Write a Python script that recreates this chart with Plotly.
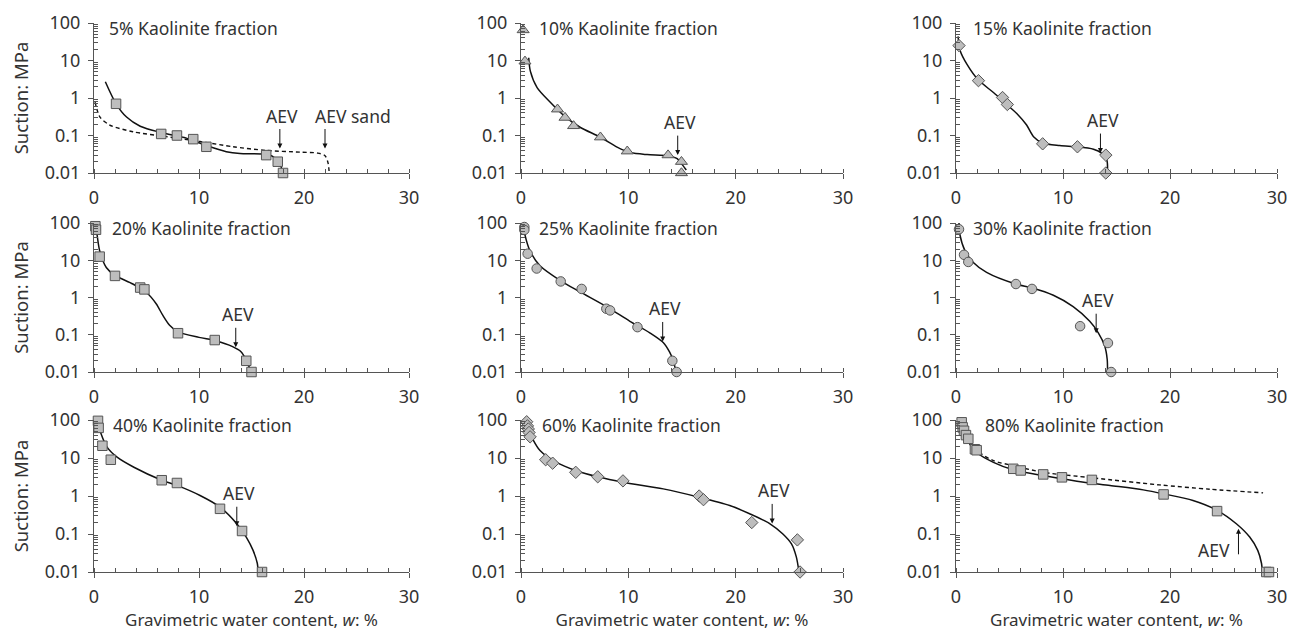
import math
import plotly.graph_objects as go

# ---------------- data ----------------
titles = ["5% Kaolinite fraction", "10% Kaolinite fraction", "15% Kaolinite fraction",
          "20% Kaolinite fraction", "25% Kaolinite fraction", "30% Kaolinite fraction",
          "40% Kaolinite fraction", "60% Kaolinite fraction", "80% Kaolinite fraction"]
symbols = ["square", "triangle-up", "diamond", "square", "circle", "circle",
           "square", "diamond", "square"]

# measured points
w05 = [2.1, 6.4, 7.9, 9.45, 10.7, 16.4, 17.5, 18.0]
s05 = [0.70, 0.11, 0.10, 0.08, 0.05, 0.03, 0.02, 0.01]
w10 = [0.2, 0.37, 3.4, 4.1, 4.9, 7.4, 9.9, 13.7, 14.95, 14.95]
s10 = [65, 9.5, 0.5, 0.30, 0.18, 0.09, 0.038, 0.03, 0.02, 0.01]
w15 = [0.28, 2.1, 4.35, 4.8, 8.1, 11.35, 14.0, 14.0]
s15 = [25, 2.9, 1.03, 0.67, 0.06, 0.05, 0.03, 0.01]
w20 = [0.13, 0.19, 0.54, 2.0, 4.4, 4.8, 8.0, 11.5, 14.5, 15.0]
s20 = [82, 66, 12.5, 3.8, 1.85, 1.65, 0.11, 0.072, 0.02, 0.01]
w25 = [0.31, 0.31, 0.62, 1.46, 3.7, 5.65, 7.95, 8.3, 10.85, 14.1, 14.5]
s25 = [78, 65, 15, 6.0, 2.7, 1.7, 0.5, 0.45, 0.16, 0.02, 0.01]
w30 = [0.28, 0.75, 1.15, 5.6, 7.1, 11.6, 14.2, 14.5]
s30 = [68, 14, 9.0, 2.3, 1.7, 0.17, 0.06, 0.01]
w40 = [0.38, 0.44, 0.8, 1.6, 6.45, 7.9, 12.0, 14.1, 16.0]
s40 = [95, 62, 21, 9.0, 2.6, 2.2, 0.46, 0.12, 0.01]
w60 = [0.53, 0.6, 0.68, 0.75, 0.85, 2.3, 2.95, 5.1, 7.15, 9.5, 16.6, 17.0, 21.5, 25.75, 26.0]
s60 = [90, 70, 58, 47, 36, 9.0, 7.3, 4.2, 3.2, 2.5, 1.0, 0.8, 0.2, 0.07, 0.01]
w80 = [0.53, 0.62, 0.75, 0.93, 1.15, 1.77, 1.93, 5.35, 6.05, 8.15, 9.9, 12.7, 19.4, 24.4, 29.0, 29.25]
s80 = [87, 64, 52, 40, 32, 17, 16, 5.2, 4.7, 3.7, 3.1, 2.65, 1.1, 0.40, 0.01, 0.01]

# fitted curves (solid)
fw05 = [1.08, 2.1, 3.1, 4.4, 6.4, 8.8, 10.7, 12.6, 13.9, 16.1, 17.05, 17.7, 17.95]
fs05 = [2.7, 0.7, 0.31, 0.177, 0.12, 0.085, 0.054, 0.037, 0.033, 0.032, 0.0275, 0.018, 0.01]
fw10 = [0.72, 0.87, 1.5, 2.75, 4.0, 5.5, 7.4, 8.95, 10.2, 11.75, 13.7, 14.55, 15.0, 15.4]
fs10 = [11.8, 5.2, 1.9, 0.76, 0.34, 0.166, 0.09, 0.049, 0.035, 0.031, 0.029, 0.024, 0.017, 0.012]
fw15 = [0.19, 0.4, 1.03, 2.1, 3.5, 4.45, 5.7, 6.6, 7.25, 8.1, 9.7, 11.35, 12.85, 13.6, 14.1, 14.15]
fs15 = [44, 18, 7.9, 3.0, 1.4, 0.8, 0.38, 0.19, 0.093, 0.063, 0.054, 0.05, 0.043, 0.034, 0.022, 0.01]
fw20 = [0.13, 0.29, 0.54, 1.17, 2.0, 3.7, 4.97, 5.92, 6.56, 7.2, 8.0, 10.0, 11.6, 13.2, 14.0, 14.5, 14.8, 14.86]
fs20 = [100, 49, 18, 6.4, 3.9, 2.3, 1.38, 0.68, 0.33, 0.18, 0.12, 0.085, 0.069, 0.048, 0.035, 0.021, 0.013, 0.01]
fw25 = [0.2, 0.37, 0.84, 1.77, 3.7, 5.5, 7.95, 10.15, 12.0, 13.25, 13.85, 14.25, 14.4]
fs25 = [100, 48, 17.8, 7.1, 2.8, 1.41, 0.57, 0.23, 0.113, 0.062, 0.034, 0.018, 0.01]
fw30 = [0.28, 0.37, 0.84, 1.62, 2.86, 5.57, 7.13, 9.1, 10.95, 12.5, 13.3, 13.9, 14.13, 14.16]
fs30 = [100, 48, 18, 8.7, 4.7, 2.3, 1.8, 1.15, 0.57, 0.23, 0.113, 0.05, 0.022, 0.01]
fw40 = [0.32, 0.63, 1.26, 2.2, 3.8, 6.45, 7.9, 10.1, 12.0, 13.6, 14.5, 15.15, 15.55, 15.63]
fs40 = [100, 47, 19, 10.5, 5.7, 2.6, 1.9, 1.03, 0.51, 0.186, 0.083, 0.037, 0.017, 0.01]
fw60 = [0.16, 0.53, 1.0, 1.77, 3.3, 5.1, 7.15, 9.5, 13.25, 16.6, 19.45, 21.3, 23.2, 24.4, 25.2, 25.65, 25.9]
fs60 = [100, 64, 35, 15.7, 7.7, 4.7, 3.2, 2.3, 1.54, 0.93, 0.56, 0.34, 0.186, 0.10, 0.055, 0.025, 0.01]
fw80 = [0.53, 0.84, 1.3, 1.93, 3.5, 5.35, 8.15, 11.3, 14.4, 17.5, 19.4, 22.15, 24.4, 26.2, 27.45, 28.2, 28.55, 28.63]
fs80 = [95, 43, 23, 14, 7.7, 4.9, 3.45, 2.45, 1.89, 1.45, 1.14, 0.76, 0.42, 0.186, 0.083, 0.037, 0.017, 0.01]

# dashed curves
dw05 = [0.1, 0.57, 1.5, 3.7, 6.9, 10.1, 13.25, 16.4, 19.6, 21.3, 22.0, 22.3, 22.4]
ds05 = [0.78, 0.31, 0.19, 0.126, 0.093, 0.069, 0.05, 0.04, 0.036, 0.034, 0.029, 0.018, 0.01]
dw80 = [0.68, 1.3, 1.93, 3.5, 5.35, 8.15, 12.8, 19.0, 23.7, 28.7]
ds80 = [87, 26, 15.7, 8.5, 6.3, 4.2, 3.0, 1.96, 1.51, 1.21]

# AEV arrows: water content, suction at arrow tip
aev_w = [17.7, 14.6, 13.5, 13.5, 13.2, 13.1, 13.6, 23.4, 26.4]
aev_s = [0.045, 0.030, 0.034, 0.046, 0.066, 0.11, 0.16, 0.19, 0.137]
aev_sand_w = 22.0
aev_sand_s = 0.045

# axis ticks
x_ticks = [0, 10, 20, 30]
y_ticks = [0.01, 0.1, 1, 10, 100]
y_ticktext = ["0.01", "0.1", "1", "10", "100"]

pts_w = [w05, w10, w15, w20, w25, w30, w40, w60, w80]
pts_s = [s05, s10, s15, s20, s25, s30, s40, s60, s80]
fit_w = [fw05, fw10, fw15, fw20, fw25, fw30, fw40, fw60, fw80]
fit_s = [fs05, fs10, fs15, fs20, fs25, fs30, fs40, fs60, fs80]

y_minor = [m * 10 ** e for e in range(-2, 2) for m in range(2, 10)]

# ---------------- layout geometry ----------------
W, H = 1295, 633
OFF = 8  # page body margin of the browser
col_px = [(94 - OFF, 409 - OFF), (521 - OFF, 843 - OFF), (956 - OFF, 1277 - OFF)]
row_px = [(23 - OFF, 173 - OFF), (223 - OFF, 372 - OFF), (420 - OFF, 572 - OFF)]
title_dx = [0.041, 0.05, 0.047, 0.051, 0.05, 0.047, 0.054, 0.059, 0.084]

FONT = "Noto Sans"
TXT = "#333333"
AX = "#555555"
TICKF = dict(family=FONT, size=18, color=TXT)
LABF = dict(family=FONT, size=17.5, color=TXT)

fig = go.Figure()

for i in range(9):
    r, c = divmod(i, 3)
    n = i + 1
    xa = "x" if n == 1 else f"x{n}"
    ya = "y" if n == 1 else f"y{n}"

    fig.add_trace(go.Scatter(x=fit_w[i], y=fit_s[i], mode="lines",
                             line=dict(color="#111111", width=1.5, shape="spline", smoothing=0.8),
                             xaxis=xa, yaxis=ya, showlegend=False, hoverinfo="skip"))
    if i == 0:
        fig.add_trace(go.Scatter(x=dw05, y=ds05, mode="lines",
                                 line=dict(color="#111111", width=1.4, dash="4px,3px", shape="spline", smoothing=0.8),
                                 xaxis=xa, yaxis=ya, showlegend=False))
    if i == 8:
        fig.add_trace(go.Scatter(x=dw80, y=ds80, mode="lines",
                                 line=dict(color="#111111", width=1.4, dash="4px,3px", shape="spline", smoothing=0.8),
                                 xaxis=xa, yaxis=ya, showlegend=False))
    fig.add_trace(go.Scatter(x=pts_w[i], y=pts_s[i], mode="markers",
                             marker=dict(symbol=symbols[i], size=9.5 if symbols[i] != "triangle-up" else 10.5,
                                         color="#bdbdbd", line=dict(color="#555555", width=1)),
                             cliponaxis=False, xaxis=xa, yaxis=ya, showlegend=False))

    x0, x1 = col_px[c]
    y0, y1 = row_px[r]
    xkey = "xaxis" if n == 1 else f"xaxis{n}"
    ykey = "yaxis" if n == 1 else f"yaxis{n}"
    xaxis = dict(domain=[x0 / W, x1 / W], anchor=ya, range=[0, 30], automargin=False,
                 tickvals=x_ticks, ticks="outside", ticklen=5, tickcolor=AX, ticklabelstandoff=3,
                 showline=True, linecolor=AX, linewidth=1, showgrid=False, zeroline=False,
                 minor=dict(ticks="inside", dtick=2, ticklen=4, tickcolor=AX, showgrid=False),
                 tickfont=TICKF)
    if r == 2:
        xaxis["title"] = dict(text="Gravimetric water content, <i>w</i>: %",
                              font=dict(family=FONT, size=17, color=TXT), standoff=4)
    yaxis = dict(domain=[1 - y1 / H, 1 - y0 / H], anchor=xa, type="log", range=[-2, 2],
                 automargin=False, tickvals=y_ticks, ticktext=y_ticktext,
                 ticks="outside", ticklen=5, tickcolor=AX, ticklabelstandoff=4,
                 showline=True, linecolor=AX, linewidth=1, showgrid=False, zeroline=False,
                 minor=dict(ticks="inside", tickvals=y_minor, ticklen=4, tickcolor=AX, showgrid=False),
                 tickfont=TICKF)
    if c == 0:
        yaxis["title"] = dict(text="Suction: MPa", font=dict(family=FONT, size=18.5, color=TXT), standoff=14)
    fig.layout[xkey] = xaxis
    fig.layout[ykey] = yaxis

    # panel title
    fig.add_annotation(text=titles[i], xref=f"{xa} domain", yref=f"{ya} domain",
                       x=title_dx[i], y=0.967, xanchor="left", yanchor="middle", showarrow=False,
                       font=LABF)

    # AEV arrows
    up = (i == 8)
    fig.add_annotation(text="", x=aev_w[i], y=math.log10(aev_s[i]), xref=xa, yref=ya,
                       showarrow=True, arrowhead=2, arrowsize=1, arrowwidth=1, arrowcolor="#111111",
                       ax=0, ay=(27 if up else -21))
    if up:
        fig.add_annotation(text="AEV", x=24.1, y=math.log10(aev_s[i]), xref=xa, yref=ya,
                           yshift=-21, showarrow=False, font=LABF)
    else:
        fig.add_annotation(text="AEV", x=aev_w[i] + 0.2, y=math.log10(aev_s[i]), xref=xa, yref=ya,
                           yshift=33, showarrow=False, font=LABF)
    if i == 0:
        fig.add_annotation(text="", x=aev_sand_w, y=math.log10(aev_sand_s), xref=xa, yref=ya,
                           showarrow=True, arrowhead=2, arrowsize=1, arrowwidth=1, arrowcolor="#111111",
                           ax=0, ay=-21)
        fig.add_annotation(text="AEV sand", x=aev_sand_w - 1.1, y=math.log10(aev_sand_s), xref=xa, yref=ya,
                           yshift=33, xanchor="left", showarrow=False, font=LABF)

fig.update_layout(width=W, height=H, margin=dict(l=0, r=0, t=0, b=0),
                  paper_bgcolor="white", plot_bgcolor="white",
                  font=dict(family=FONT, size=17, color=TXT))

fig.write_html("out.html")
